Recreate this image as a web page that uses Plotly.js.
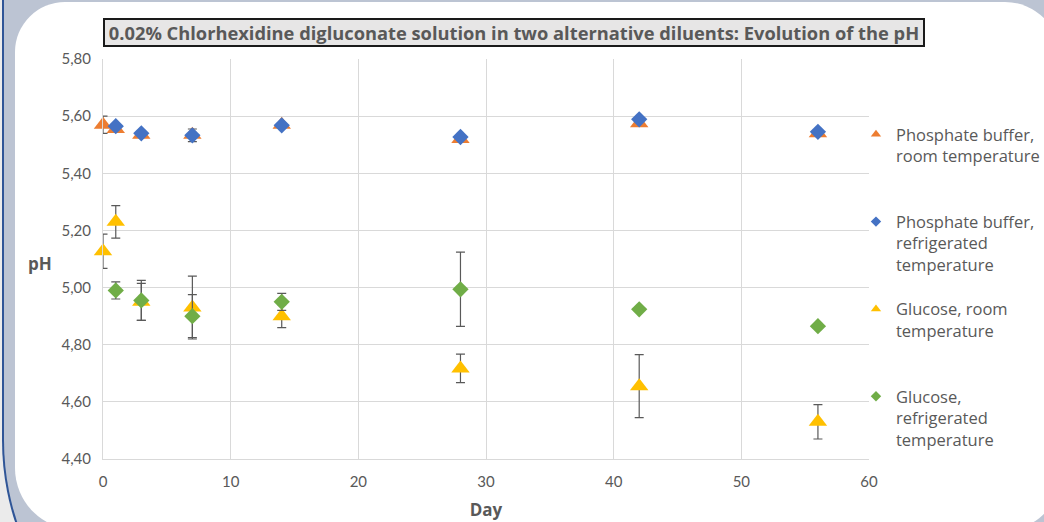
<!DOCTYPE html>
<html>
<head>
<meta charset="utf-8">
<script src="https://cdn.plot.ly/plotly-3.0.1.min.js"></script>
<style>
  html, body { margin:0; padding:0; width:1044px; height:522px; overflow:hidden; background:#ebebeb; }
  #band { position:absolute; left:2px; top:-30px; width:1100px; height:735px; background:#bcc4d3;
          border-left:2px solid #2f5597; border-bottom:2px solid #2f5597; border-radius:0 0 0 265px; box-sizing:border-box; }
  #sheet { position:absolute; left:15px; top:2px; width:1045px; height:528px; background:#ffffff;
           border-radius:50px 55px 55px 62px; }
  #chart { position:absolute; left:0; top:0; width:1044px; height:522px; }
</style>
</head>
<body>
<div id="band"></div>
<div id="sheet"></div>
<div id="chart"></div>
<script>
// ---- data ----
const days = [0, 1, 3, 7, 14, 28, 42, 56];
const daysNoZero = [1, 3, 7, 14, 28, 42, 56];

const seriesNames = [
  "Phosphate buffer,<br>room temperature<br> ",
  "Phosphate buffer,<br>refrigerated<br>temperature",
  "Glucose, room<br>temperature<br> ",
  "Glucose,<br>refrigerated<br>temperature"
];

const phosphateRoom      = [5.57, 5.555, 5.535, 5.535, 5.57, 5.52, 5.575, 5.54];
const phosphateRoomErr   = [0.03, 0, 0, 0, 0, 0, 0, 0];

const phosphateFridge    = [5.565, 5.54, 5.533, 5.568, 5.527, 5.589, 5.545];
const phosphateFridgeErr = [0, 0, 0.022, 0, 0, 0, 0];

const glucoseRoom        = [5.127, 5.23, 4.95, 4.93, 4.90, 4.717, 4.655, 4.53];
const glucoseRoomErr     = [0.06, 0.057, 0.065, 0.11, 0.04, 0.05, 0.11, 0.06];

const glucoseFridge      = [4.99, 4.955, 4.90, 4.95, 4.994, 4.924, 4.865];
const glucoseFridgeErr   = [0.03, 0.07, 0.075, 0.03, 0.13, 0, 0];

const yTicks = [4.4, 4.6, 4.8, 5.0, 5.2, 5.4, 5.6, 5.8];
const xTicks = [0, 10, 20, 30, 40, 50, 60];

const colors = ["#ED7D31", "#4472C4", "#FFC000", "#70AD47"];
const symbols = ["triangle-up", "diamond", "triangle-up", "diamond"];

// ---- traces ----
const TICKFONT = "Lato, 'Open Sans', sans-serif";
const FONT = "'Open Sans', Lato, sans-serif";
function errCfg(arr) {
  return { type: "data", array: arr, visible: true, color: "#595959", thickness: 1.2, width: 4.5 };
}
const xs = [days, daysNoZero, days, daysNoZero];
const ys = [phosphateRoom, phosphateFridge, glucoseRoom, glucoseFridge];
const es = [phosphateRoomErr, phosphateFridgeErr, glucoseRoomErr, glucoseFridgeErr];

const traces = [];
for (let i = 0; i < 4; i++) {
  traces.push({
    type: "scatter", mode: "markers", x: xs[i], y: ys[i],
    name: seriesNames[i], showlegend: false, cliponaxis: false,
    marker: { color: colors[i], symbol: symbols[i], size: symbols[i] === "diamond" ? 12.5 : 16 },
    error_y: errCfg(es[i])
  });
}
// legend entries (small symbols like the original)
for (let i = 0; i < 4; i++) {
  traces.push({
    type: "scatter", mode: "markers", x: [null], y: [null],
    name: seriesNames[i], showlegend: true, legendgroup: "g" + i,
    marker: { color: colors[i], symbol: symbols[i], size: symbols[i] === "diamond" ? 8 : 9 }
  });
}

const layout = {
  width: 1044, height: 522,
  paper_bgcolor: "rgba(0,0,0,0)", plot_bgcolor: "rgba(0,0,0,0)",
  margin: { l: 103, r: 175, t: 59, b: 63, autoexpand: false },
  separators: ",.",
  font: { family: FONT, color: "#595959", size: 15 },
  xaxis: {
    range: [0, 60], tickvals: xTicks, ticks: "outside", ticklen: 9, tickcolor: "rgba(0,0,0,0)",
    showgrid: true, gridcolor: "#d9d9d9", gridwidth: 1,
    zeroline: false, showline: true, linecolor: "#d9d9d9", linewidth: 1,
    tickfont: { family: TICKFONT, size: 15, color: "#595959" },
    title: { text: "<b>Day</b>", font: { family: FONT, size: 17, color: "#595959" }, standoff: 15 }
  },
  yaxis: {
    range: [4.4, 5.8], tickvals: yTicks, tickformat: ".2f", ticks: "outside", ticklen: 8, tickcolor: "rgba(0,0,0,0)",
    showgrid: true, gridcolor: "#d9d9d9",
    zeroline: false, showline: true, linecolor: "#d9d9d9", linewidth: 1,
    tickfont: { family: TICKFONT, size: 15, color: "#595959" }
  },
  legend: {
    x: 0.983, xanchor: "left", y: 0.855, yanchor: "top",
    font: { family: FONT, size: 16.5, color: "#595959" },
    valign: "top", tracegroupgap: 20, itemwidth: 30,
    bgcolor: "rgba(0,0,0,0)", borderwidth: 0
  },
  annotations: [
    {
      text: "<b>0.02% Chlorhexidine digluconate solution in two alternative diluents: Evolution of the pH</b>",
      xref: "paper", yref: "paper", x: 0.5366, y: 1.0675, xanchor: "center", yanchor: "middle",
      showarrow: false, width: 816, height: 23, align: "center",
      bgcolor: "#e7e6e6", bordercolor: "#1a1a1a", borderwidth: 2, borderpad: 1,
      font: { family: FONT, size: 18.3, color: "#595959" }
    },
    {
      text: "<b>pH</b>", xref: "paper", yref: "paper", x: -0.082, y: 0.49, xanchor: "center", yanchor: "middle",
      showarrow: false, font: { family: FONT, size: 17, color: "#595959" }
    }
  ]
};

Plotly.newPlot("chart", traces, layout, { displayModeBar: false, staticPlot: true });
</script>
</body>
</html>
